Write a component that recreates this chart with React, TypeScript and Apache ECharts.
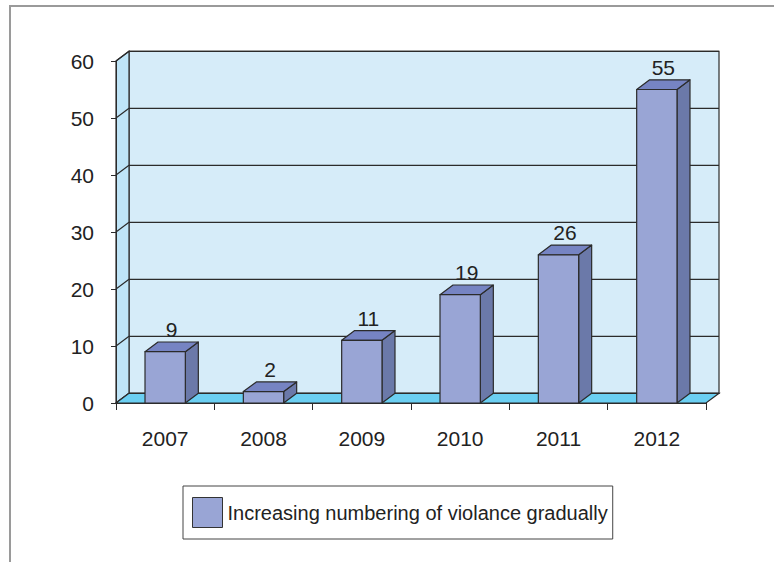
import React, { useEffect, useRef } from "react";
import * as echarts from "echarts";

const categories = ["2007", "2008", "2009", "2010", "2011", "2012"];
const values = [9, 2, 11, 19, 26, 55];
const yTicks = [0, 10, 20, 30, 40, 50, 60];
const seriesName = "Increasing numbering of violance gradually";

const FONT = '"Liberation Sans", Arimo, Arial, sans-serif';
const DX = 13;
const DY = -9.7;
const EDGE = "#2b2b2b";

export default function App() {
  const ref = useRef<HTMLDivElement>(null);
  useEffect(() => {
    if (!ref.current) return;
    const chart = echarts.init(ref.current, null, { renderer: "svg" });
    const option: any = {
      animation: false,
      backgroundColor: "#ffffff",
      grid: { left: 116, right: 68, top: 61, bottom: 159, containLabel: false },
      xAxis: {
        type: "category",
        data: categories,
        boundaryGap: true,
        z: 10,
        axisLine: { show: true, lineStyle: { color: EDGE, width: 1 } },
        axisTick: { show: true, length: 7, lineStyle: { color: EDGE } },
        axisLabel: { margin: 25, fontFamily: FONT, fontSize: 21, color: "#222" },
        splitLine: { show: false },
      },
      yAxis: {
        type: "value",
        min: 0,
        max: 60,
        interval: 10,
        z: 10,
        axisLine: { show: true, lineStyle: { color: EDGE, width: 1 } },
        axisTick: { show: true, length: 5, lineStyle: { color: EDGE } },
        axisLabel: { margin: 22, fontFamily: FONT, fontSize: 21, color: "#222" },
        splitLine: { show: false },
      },
      legend: {
        show: true,
        data: [seriesName],
        left: 183,
        top: 486,
        orient: "horizontal",
        padding: [11, 5, 11, 9],
        borderColor: "#444",
        borderWidth: 1,
        itemWidth: 30,
        itemHeight: 30,
        itemGap: 0,
        icon: "rect",
        itemStyle: { borderColor: "#333", borderWidth: 1 },
        textStyle: { fontFamily: FONT, fontSize: 20, color: "#222" },
        selectedMode: false,
      },
      graphic: [
        { type: "line", shape: { x1: 9, y1: 6, x2: 774, y2: 6 }, style: { stroke: "#9a9a9a", lineWidth: 2 } },
        { type: "line", shape: { x1: 10, y1: 6, x2: 10, y2: 562 }, style: { stroke: "#9a9a9a", lineWidth: 2 } },
      ],
      series: [
        {
          type: "custom",
          name: "frame",
          silent: true,
          clip: false,
          z: 1,
          data: [[0, 0]],
          renderItem: (params: any, api: any) => {
            const cs = params.coordSys;
            const x0 = cs.x;
            const x1 = cs.x + cs.width;
            const yTop = cs.y;
            const yBot = cs.y + cs.height;
            const children: any[] = [];
            children.push({
              type: "rect",
              shape: { x: x0 + DX, y: yTop + DY, width: cs.width, height: cs.height },
              style: { fill: "#d6ecf9", stroke: EDGE, lineWidth: 1.2 },
            });
            children.push({
              type: "polygon",
              shape: { points: [[x0, yTop], [x0 + DX, yTop + DY], [x0 + DX, yBot + DY], [x0, yBot]] },
              style: { fill: "#bfe5f8", stroke: EDGE, lineWidth: 1.2 },
            });
            yTicks.forEach((t) => {
              const y = api.coord([0, t])[1];
              children.push({
                type: "line",
                shape: { x1: x0 + DX, y1: y + DY, x2: x1 + DX, y2: y + DY },
                style: { stroke: EDGE, lineWidth: 1.2 },
              });
              children.push({
                type: "line",
                shape: { x1: x0, y1: y, x2: x0 + DX, y2: y + DY },
                style: { stroke: EDGE, lineWidth: 1.2 },
              });
            });
            children.push({
              type: "polygon",
              shape: { points: [[x0, yBot], [x1, yBot], [x1 + DX, yBot + DY], [x0 + DX, yBot + DY]] },
              style: { fill: "#6bcff2", stroke: EDGE, lineWidth: 1.2 },
            });
            return { type: "group", children };
          },
        },
        {
          type: "custom",
          name: seriesName,
          clip: false,
          z: 5,
          itemStyle: { color: "#99a5d5", borderColor: "#333", borderWidth: 1 },
          data: values.map((v, i) => [i, v]),
          renderItem: (params: any, api: any) => {
            const idx = api.value(0);
            const val = api.value(1);
            const top = api.coord([idx, val]);
            const base = api.coord([idx, 0]);
            const w = api.size([1, 0])[0] * 0.41;
            const xl = top[0] - w / 2;
            const xr = top[0] + w / 2;
            const yt = top[1];
            const yb = base[1];
            const stroke = { stroke: EDGE, lineWidth: 1.2, lineJoin: "round" };
            return {
              type: "group",
              children: [
                {
                  type: "polygon",
                  shape: { points: [[xr, yb], [xr + DX, yb + DY], [xr + DX, yt + DY], [xr, yt]] },
                  style: { fill: "#6b79a9", ...stroke },
                },
                {
                  type: "polygon",
                  shape: { points: [[xl, yt], [xr, yt], [xr + DX, yt + DY], [xl + DX, yt + DY]] },
                  style: { fill: "#7684c3", ...stroke },
                },
                {
                  type: "rect",
                  shape: { x: xl, y: yt, width: w, height: yb - yt },
                  style: { fill: "#99a5d5", ...stroke },
                },
                {
                  type: "text",
                  style: {
                    text: String(val),
                    x: top[0] + DX / 2,
                    y: yt + DY - 2,
                    align: "center",
                    verticalAlign: "bottom",
                    fontFamily: FONT,
                    fontSize: 21,
                    fill: "#222",
                  },
                },
              ],
            };
          },
        },
      ],
    };
    chart.setOption(option);
    return () => chart.dispose();
  }, []);
  return (
    <div
      ref={ref}
      style={{ position: "fixed", left: 0, top: 0, width: 774, height: 562, background: "#fff" }}
    />
  );
}
